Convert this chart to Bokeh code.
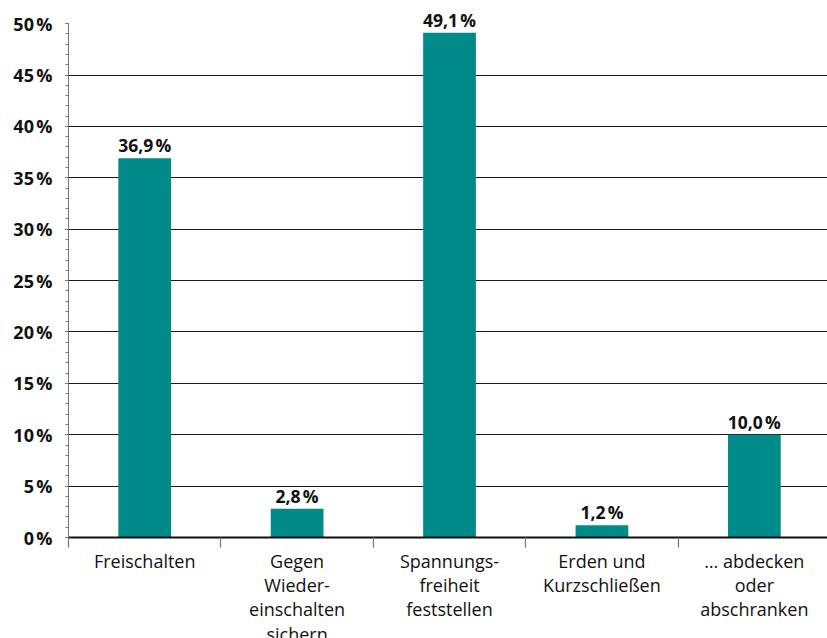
from bokeh.plotting import figure
from bokeh.models import ColumnDataSource, FixedTicker, Range1d
from bokeh.core.properties import value
from bokeh.embed import file_html
from bokeh.resources import INLINE

categories = ["Freischalten", "Gegen\nWieder-\neinschalten\nsichern", "Spannungs-\nfreiheit\nfeststellen",
              "Erden und\nKurzschließen", "… abdecken\noder\nabschranken"]
values = [36.9, 2.8, 49.1, 1.2, 10.0]
y_ticks = [0, 5, 10, 15, 20, 25, 30, 35, 40, 45, 50]
y_tick_labels = [f"{t}\u202f%" for t in y_ticks]

FONT = "Open Sans"
TEAL = "#008a89"

x_pos = [i + 0.5 for i in range(len(categories))]
labels = [f"{v:.1f}".replace(".", ",") + "\u202f%" for v in values]
src = ColumnDataSource(dict(x=x_pos, top=values, label=labels))

p = figure(frame_width=759, frame_height=537, output_backend="svg", toolbar_location=None,
           x_range=Range1d(0, 4.98), y_range=Range1d(0, 52.25),
           min_border_left=68, min_border_top=0, min_border_right=0, min_border_bottom=0)
p.outline_line_color = None
p.background_fill_color = "white"
p.border_fill_color = "white"

# grid
p.xgrid.visible = False
p.ygrid.ticker = FixedTicker(ticks=y_ticks[1:-1])
p.ygrid.grid_line_color = "#1a1a1a"
p.ygrid.grid_line_width = 1.2

p.vbar(x="x", top="top", width=0.346, bottom=0, source=src, fill_color=TEAL, line_color=None)

p.text(x="x", y="top", text="label", source=src, text_align="center", text_baseline="bottom",
       y_offset=-1, text_font=value(FONT), text_font_size="17.5px", text_color="#111111",
       text_font_style="bold")

# y axis
ya = p.yaxis[0]
ya.bounds = (0, 50)
ya.ticker = FixedTicker(ticks=y_ticks, minor_ticks=list(range(0, 51)))
ya.major_label_overrides = {t: l for t, l in zip(y_ticks, y_tick_labels)}
ya.axis_line_color = "#777777"
ya.major_tick_line_color = "#333333"
ya.minor_tick_line_color = "#777777"
ya.major_tick_out = 3
ya.major_tick_in = 0
ya.minor_tick_out = 3
ya.minor_tick_in = 0
ya.major_label_standoff = 13
ya.major_label_text_font = FONT
ya.major_label_text_font_size = "18px"
ya.major_label_text_font_style = "bold"
ya.major_label_text_color = "#111111"

# x axis
xa = p.xaxis[0]
xa.ticker = FixedTicker(ticks=x_pos, minor_ticks=[0, 1, 2, 3, 4, 5])
xa.major_label_overrides = {x: c for x, c in zip(x_pos, categories)}
xa.axis_line_color = "#111111"
xa.axis_line_width = 2
xa.major_tick_out = 0
xa.major_tick_in = 0
xa.minor_tick_out = 10
xa.minor_tick_in = 0
xa.minor_tick_line_color = "#777777"
xa.minor_tick_line_width = 1.2
xa.major_label_standoff = 1
xa.major_label_text_font = FONT
xa.major_label_text_font_size = "18px"
xa.major_label_text_color = "#111111"
xa.major_label_text_line_height = 1.02

open("out.html", "w").write(file_html(p, INLINE))
